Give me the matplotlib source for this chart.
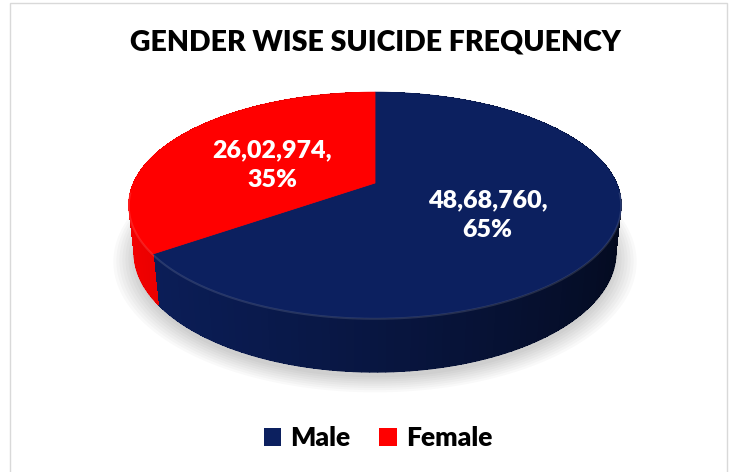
import numpy as np
import matplotlib.pyplot as plt
from matplotlib.collections import PolyCollection, LineCollection
from matplotlib.patches import Polygon, Rectangle, Patch

title = "GENDER WISE SUICIDE FREQUENCY"
labels = ["Male", "Female"]
counts = [4868760, 2602974]
top_colors = ["#0c205f", "#ff0000"]

# tilted-disc view, fitted to the picture (pixel units)
CX, CY = 375, 183
FOCAL = 1108.0
DIST = 4.587
TILT = np.radians(26.7)
THICK = 0.221


def project(x, y, h=0.0):
    s, c = np.sin(TILT), np.cos(TILT)
    depth = DIST + y * c - h * s
    return CX + FOCAL * x / depth, CY - FOCAL * (y * s + h * c) / depth


def rim(theta, r=1.0, h=0.0):
    return project(r * np.cos(theta), r * np.sin(theta), h)


def indian(n):
    s = str(n)
    head, tail = s[:-3], s[-3:]
    groups = []
    while len(head) > 2:
        groups.insert(0, head[-2:])
        head = head[:-2]
    if head:
        groups.insert(0, head)
    return ",".join(groups + [tail])


def shade(color, phi):
    rgb = np.array(plt.matplotlib.colors.to_rgb(color))
    f = 0.3 + 0.65 * (0.5 + 0.5 * np.cos(phi - np.radians(190)))
    return tuple(np.clip(rgb * f, 0, 1))


fig = plt.figure(figsize=(7.29, 4.72), dpi=100)
ax = fig.add_axes([0, 0, 1, 1])
ax.set_xlim(0, 729)
ax.set_ylim(472, 0)
ax.axis("off")

# light frame of the chart area
fig.patches.append(
    Rectangle((10 / 729, -0.01), 717 / 729, 1 - 2.5 / 472 + 0.01,
              transform=fig.transFigure, fill=False, ec="#d9d9d9", lw=1)
)

total = sum(counts)
fracs = np.array(counts) / total
edges = 90 - 360 * np.concatenate([[0], np.cumsum(fracs)])

# soft shadow under the disc
t_all = np.linspace(0, 2 * np.pi, 240)
for k in range(8):
    sx, sy = rim(t_all, 1.0 + 0.012 * k, -THICK - 0.01)
    ax.add_patch(Polygon(np.column_stack([sx, sy + 3]), closed=True,
                         fc="black", ec="none", alpha=0.025, zorder=1))

# side wall: thin shaded strips, then a smooth bottom outline
polys, cols, segs, seg_cols = [], [], [], []
for i, col in enumerate(top_colors):
    a = np.radians(np.linspace(edges[i], edges[i + 1], 150))
    for a0, a1 in zip(a[:-1], a[1:]):
        x0, y0 = rim(a0)
        x1, y1 = rim(a1)
        x2, y2 = rim(a1, h=-THICK)
        x3, y3 = rim(a0, h=-THICK)
        c = shade(col, 0.5 * (a0 + a1))
        polys.append([(x0, y0), (x1, y1), (x2, y2), (x3, y3)])
        cols.append(c)
        segs.append([(x3, y3), (x2, y2)])
        seg_cols.append(c)
ax.add_collection(PolyCollection(polys, facecolors=cols, edgecolors="none",
                                 linewidths=0, antialiased=False, zorder=2))
ax.add_collection(LineCollection(segs, colors=seg_cols, linewidths=1.0,
                                 capstyle="round", zorder=2))

# top faces
for i, col in enumerate(top_colors):
    a = np.radians(np.linspace(edges[i], edges[i + 1], 200))
    sx, sy = rim(a)
    cx, cy = project(0, 0)
    pts = np.column_stack([np.r_[cx, sx], np.r_[cy, sy]])
    ax.add_patch(Polygon(pts, closed=True, fc=col, ec=col, lw=0.6, zorder=3))

# faint highlight along the front rim
a = np.radians(np.linspace(185, 355, 120))
sx, sy = rim(a)
ax.plot(sx, sy + 1, color="white", alpha=0.12, lw=1.5, zorder=4)

# data labels
for i, n in enumerate(counts):
    mid = np.radians(0.5 * (edges[i] + edges[i + 1]))
    lx, ly = rim(mid, 0.5)
    ax.text(lx, ly + 6, f"{indian(n)},\n{fracs[i] * 100:.0f}%", color="white",
            fontsize=18, fontweight="heavy", family="Lato", ha="center",
            va="center", linespacing=1.45, zorder=5)

ax.text(375, 42, title, fontsize=20.5, fontweight="heavy", family="Lato",
        ha="center", va="center", color="black")

handles = [Patch(fc=c, ec="none", label=l) for c, l in zip(top_colors, labels)]
fig.legend(handles=handles, loc="center", bbox_to_anchor=(378 / 729, 1 - 438 / 472),
           ncol=2, frameon=False, prop={"family": "Lato", "weight": "heavy", "size": 19},
           handlelength=0.65, handleheight=0.65, handletextpad=0.35,
           columnspacing=1.1)

fig.savefig("out.png", dpi=100)
